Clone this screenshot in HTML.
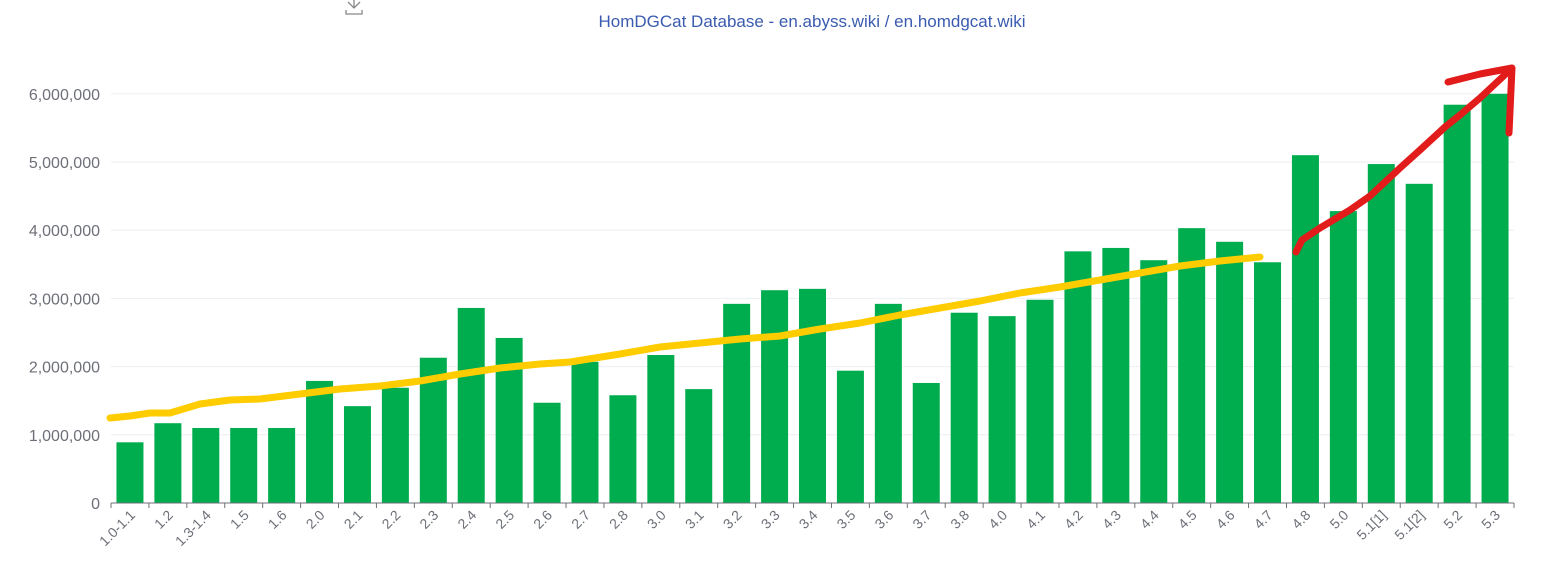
<!DOCTYPE html>
<html><head><meta charset="utf-8"><style>
body{margin:0;background:#fff;}
svg{display:block;font-family:"Liberation Sans",sans-serif;}
</style></head><body>
<svg id="c" width="1542" height="587" xmlns="http://www.w3.org/2000/svg">
<text x="812" y="27" text-anchor="middle" font-size="17" fill="#3a5bb0">HomDGCat Database - en.abyss.wiki / en.homdgcat.wiki</text>
<g stroke="#888" stroke-width="1.3" fill="none"><path d="M348 2 L354 8 L360 2 M354 0 V8 M346 10 V14 H362 V10"/></g>
<g id="grid" stroke="#eceef2" stroke-width="1"></g>
<g id="ylab" font-size="16" fill="#6e7079" text-anchor="end"></g>
<g id="bars" fill="#00ad4e"></g>
<line x1="111" y1="503" x2="1514" y2="503" stroke="#6e7079" stroke-width="1"/>
<g id="ticks" stroke="#6e7079"></g>
<g id="xlab" font-size="14" fill="#6e7079"></g>
<polyline fill="none" stroke="#ffcc00" stroke-width="7" stroke-linecap="round" stroke-linejoin="round" points="110,418 130,416 150,413 170,413 200,404 230,400 260,399 300,394 340,389 380,386 420,381 460,374 500,368 540,364 570,362 620,354 660,347 700,343 740,339 780,336 820,329 860,323 900,315 940,308 980,301 1020,293 1060,287 1100,280 1140,273 1180,266 1220,261 1260,257"/>
<g fill="none" stroke="#e21b1b" stroke-width="7" stroke-linecap="round" stroke-linejoin="round">
<polyline points="1296,252 1302,240 1320,228 1350,210 1370,196 1400,168 1420,150 1445,127 1460,115 1480,98 1510,70"/>
<polyline points="1448,82 1480,74 1512,68 1509,133"/>
</g>
</svg>
<script>
const vals=[0.89,1.17,1.10,1.10,1.10,1.79,1.42,1.69,2.13,2.86,2.42,1.47,2.07,1.58,2.17,1.67,2.92,3.12,3.14,1.94,2.92,1.76,2.79,2.74,2.98,3.69,3.74,3.56,4.03,3.83,3.53,5.10,4.28,4.97,4.68,5.84,6.0];
const labs=["1.0-1.1","1.2","1.3-1.4","1.5","1.6","2.0","2.1","2.2","2.3","2.4","2.5","2.6","2.7","2.8","3.0","3.1","3.2","3.3","3.4","3.5","3.6","3.7","3.8","4.0","4.1","4.2","4.3","4.4","4.5","4.6","4.7","4.8","5.0","5.1[1]","5.1[2]","5.2","5.3"];
const ns="http://www.w3.org/2000/svg";
function el(p,t,a,txt){const e=document.createElementNS(ns,t);for(const k in a)e.setAttribute(k,a[k]);if(txt)e.textContent=txt;document.getElementById(p).appendChild(e);}
const y0=503,k=68.2,x0=111,bw=(1514-111)/37;
for(let i=0;i<=6;i++){const y=y0-i*k;if(i>0)el("grid","line",{x1:111,x2:1514,y1:y,y2:y});el("ylab","text",{x:100,y:y+6},i==0?"0":i+",000,000");}
vals.forEach((v,i)=>{const cx=x0+bw*(i+0.5);const h=v*k;el("bars","rect",{x:cx-13.5,y:y0-h,width:27,height:h});
el("ticks","line",{x1:x0+bw*i,x2:x0+bw*i,y1:503,y2:508});
el("xlab","text",{x:cx+6,y:516,"text-anchor":"end",transform:`rotate(-45 ${cx+6} 516)`},labs[i]);});
el("ticks","line",{x1:1514,x2:1514,y1:503,y2:508});
</script>
</body></html>
